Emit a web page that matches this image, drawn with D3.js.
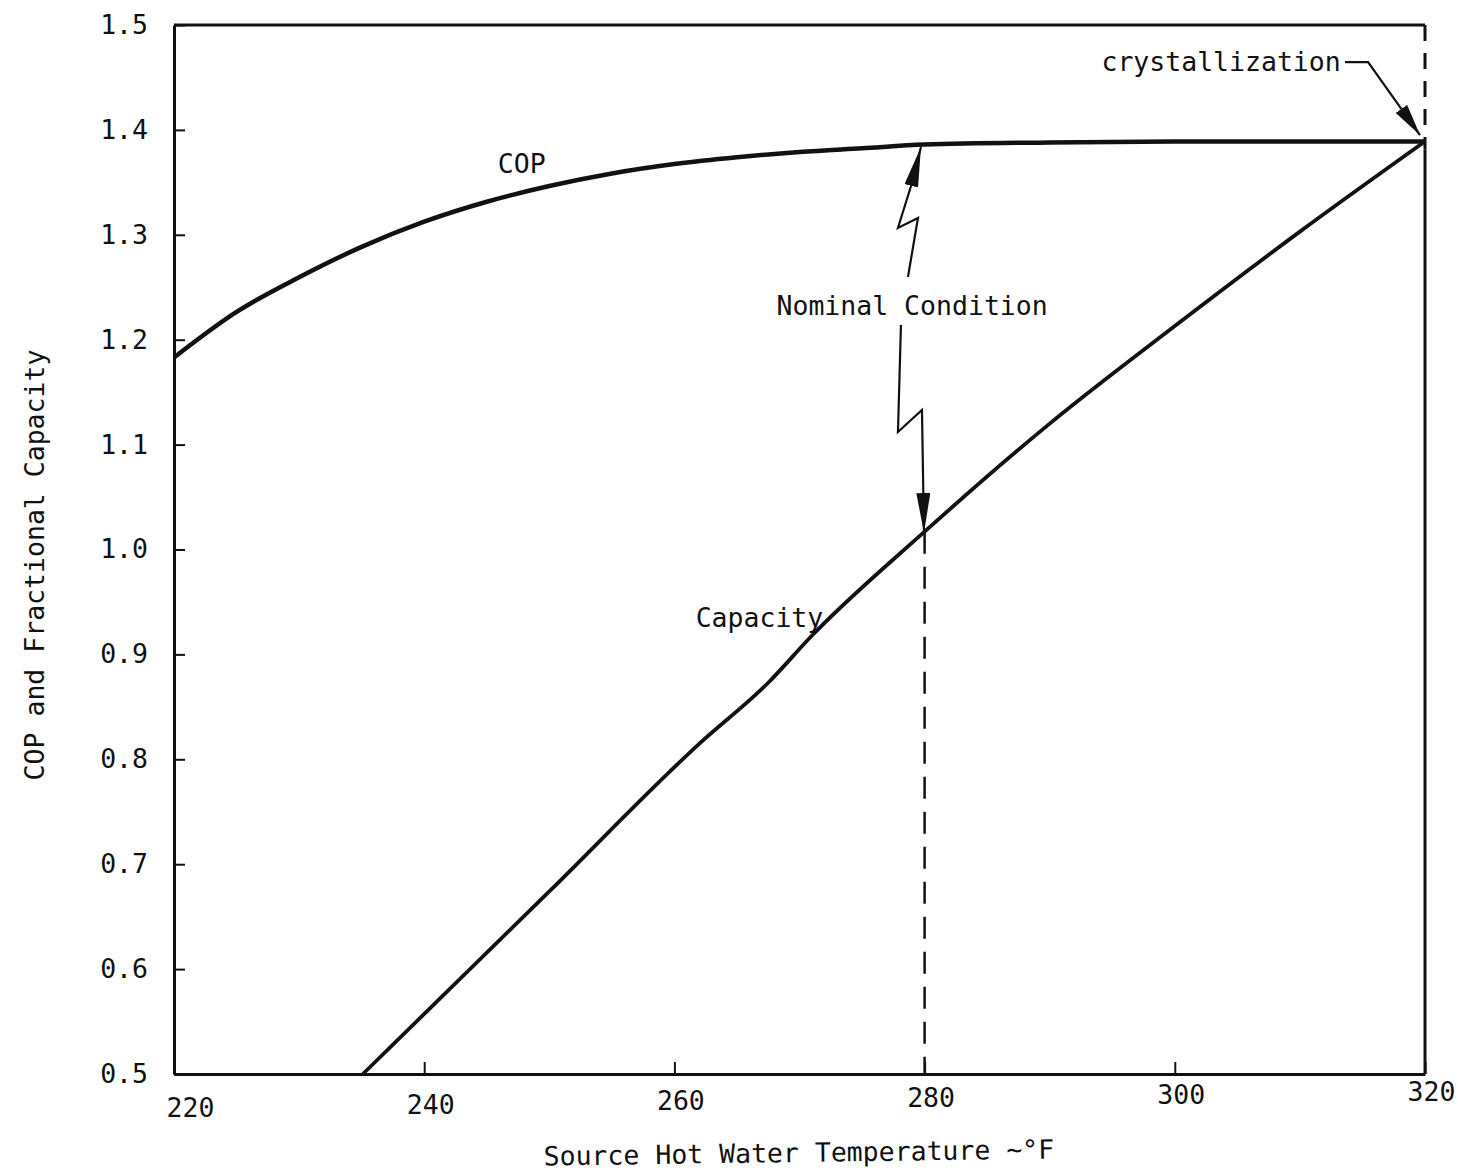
<!DOCTYPE html>
<html>
<head>
<meta charset="utf-8">
<script src="https://cdn.jsdelivr.net/npm/d3@7"></script>
<style>
  html, body { margin: 0; padding: 0; background: #fff; }
  svg { display: block; }
  text { font-family: "DejaVu Sans Mono", "Liberation Mono", monospace; fill: #111; }
</style>
</head>
<body>
<svg id="chart" width="1458" height="1172"></svg>
<script>
// ---- data ----
const copTemps   = [220, 225, 230, 235, 240, 245, 250, 255, 260, 265, 270, 275, 280, 290, 300, 310, 320];
const copValues  = [1.183, 1.2265, 1.2595, 1.2885, 1.3125, 1.3315, 1.3465, 1.3585, 1.3675, 1.374, 1.379, 1.3825, 1.386, 1.388, 1.389, 1.389, 1.389];

const capTemps   = [235.1, 250, 262, 267.5, 271, 280, 290, 300, 310, 320];
const capValues  = [0.50, 0.674, 0.815, 0.873, 0.918, 1.017, 1.120, 1.213, 1.303, 1.389];

const xTicks = [220, 240, 260, 280, 300, 320];
const yTicks = [0.5, 0.6, 0.7, 0.8, 0.9, 1.0, 1.1, 1.2, 1.3, 1.4, 1.5];

const xTitle = "Source Hot Water Temperature ~°F";
const yTitle = "COP and Fractional Capacity";

const nominalTemp = 280;
const nominalCapacity = 1.017;
const crystallizationTemp = 320;

// annotation paths in data units [temperature, value]
const nominalUpPath   = [[278.67, 1.2598], [279.47, 1.316], [277.87, 1.3065], [278.99, 1.3494], [279.71, 1.3837]];
const nominalDownPath = [[278.11, 1.214], [277.87, 1.112], [279.79, 1.133], [279.95, 1.0157]];
const crystalPath     = [[313.6, 1.4647], [315.45, 1.4647], [319.6, 1.3951]];

const labels = [
  { text: "COP", t: 247.8, v: 1.359 },
  { text: "Capacity", t: 266.8, v: 0.926 },
  { text: "Nominal Condition", t: 279.0, v: 1.2235 },
  { text: "crystallization", t: 303.7, v: 1.456 }
];

// ---- layout ----
const svg = d3.select("#chart");
const x = d3.scaleLinear().domain([220, 320]).range([174, 1425]);
const y = d3.scaleLinear().domain([0.5, 1.5]).range([1074, 25]);
const ink = "#111";
const fs = 26.5;

// arrowhead markers
const defs = svg.append("defs");
defs.append("marker")
  .attr("id", "arrow")
  .attr("viewBox", "0 0 40 14")
  .attr("refX", 40).attr("refY", 7)
  .attr("markerWidth", 40).attr("markerHeight", 14)
  .attr("markerUnits", "userSpaceOnUse")
  .attr("orient", "auto")
  .append("path")
  .attr("d", "M0,0 L40,7 L0,14 Z")
  .attr("fill", ink);
defs.append("marker")
  .attr("id", "arrow2")
  .attr("viewBox", "0 0 32 14")
  .attr("refX", 32).attr("refY", 7)
  .attr("markerWidth", 32).attr("markerHeight", 14)
  .attr("markerUnits", "userSpaceOnUse")
  .attr("orient", "auto")
  .append("path")
  .attr("d", "M0,0 L32,7 L0,14 Z")
  .attr("fill", ink);

// axes
const yAxis = d3.axisLeft(y).tickValues(yTicks).tickFormat(d3.format(".1f"))
  .tickSizeInner(-11).tickSizeOuter(0).tickPadding(26);
const gy = svg.append("g").attr("transform", `translate(${x(220)},0)`).call(yAxis);
gy.select(".domain").attr("stroke", ink).attr("stroke-width", 3);
gy.selectAll(".tick line").attr("stroke", ink).attr("stroke-width", 2);
gy.selectAll(".tick text").attr("font-size", fs).attr("font-family", "DejaVu Sans Mono").attr("fill", ink);

const xAxis = d3.axisBottom(x).tickValues(xTicks).tickFormat(d3.format("d"))
  .tickSizeInner(-12).tickSizeOuter(0).tickPadding(24);
const gx = svg.append("g").attr("transform", `translate(0,${y(0.5)})`).call(xAxis);
gx.select(".domain").attr("stroke", ink).attr("stroke-width", 3);
gx.selectAll(".tick line").attr("stroke", ink).attr("stroke-width", 2);
gx.selectAll(".tick text").attr("font-size", fs).attr("font-family", "DejaVu Sans Mono").attr("fill", ink)
  .attr("dx", (d, i) => i === 0 ? 16 : 6)
  .attr("y", (d, i) => 24 - i * 3.2)
  .attr("dy", "0.71em");

// top border
svg.append("line")
  .attr("x1", x(220)).attr("x2", x(320)).attr("y1", y(1.5)).attr("y2", y(1.5))
  .attr("stroke", ink).attr("stroke-width", 3);
// right border (solid part) + dashed crystallization marker
svg.append("line")
  .attr("x1", x(320)).attr("x2", x(320)).attr("y1", y(1.381)).attr("y2", y(0.5))
  .attr("stroke", ink).attr("stroke-width", 3);
svg.append("line")
  .attr("x1", x(crystallizationTemp)).attr("x2", x(crystallizationTemp))
  .attr("y1", y(1.5)).attr("y2", y(1.381))
  .attr("stroke", ink).attr("stroke-width", 3).attr("stroke-dasharray", "16,12");

// dashed nominal line
svg.append("line")
  .attr("x1", x(nominalTemp)).attr("x2", x(nominalTemp))
  .attr("y1", y(nominalCapacity)).attr("y2", y(0.5))
  .attr("stroke", ink).attr("stroke-width", 2.5).attr("stroke-dasharray", "22,13");

// curves
const copData = copTemps.map((t, i) => [t, copValues[i]]);
const capData = capTemps.map((t, i) => [t, capValues[i]]);

svg.append("path").datum(copData)
  .attr("d", d3.line().x(d => x(d[0])).y(d => y(d[1])).curve(d3.curveMonotoneX))
  .attr("fill", "none").attr("stroke", ink).attr("stroke-width", 4.5);
svg.append("path").datum(capData)
  .attr("d", d3.line().x(d => x(d[0])).y(d => y(d[1])).curve(d3.curveMonotoneX))
  .attr("fill", "none").attr("stroke", ink).attr("stroke-width", 3.8)
  .attr("stroke-linejoin", "round");

// annotation arrows
const annLine = d3.line().x(d => x(d[0])).y(d => y(d[1]));
[nominalUpPath, nominalDownPath].forEach(p => {
  svg.append("path").datum(p).attr("d", annLine)
    .attr("fill", "none").attr("stroke", ink).attr("stroke-width", 2.2)
    .attr("stroke-linejoin", "miter")
    .attr("marker-end", "url(#arrow)");
});
svg.append("path").datum(crystalPath).attr("d", annLine)
  .attr("fill", "none").attr("stroke", ink).attr("stroke-width", 2.2)
  .attr("marker-end", "url(#arrow2)");

// labels
svg.selectAll("text.lbl").data(labels).enter().append("text")
  .attr("class", "lbl")
  .attr("x", d => x(d.t)).attr("y", d => y(d.v))
  .attr("text-anchor", "middle")
  .attr("font-size", fs)
  .text(d => d.text);

// axis titles
svg.append("text")
  .attr("transform", `translate(799,1162) rotate(-0.8)`)
  .attr("text-anchor", "middle").attr("font-size", fs)
  .text(xTitle);
svg.append("text")
  .attr("transform", `translate(44,565) rotate(-90)`)
  .attr("text-anchor", "middle").attr("font-size", fs)
  .text(yTitle);
</script>
</body>
</html>
